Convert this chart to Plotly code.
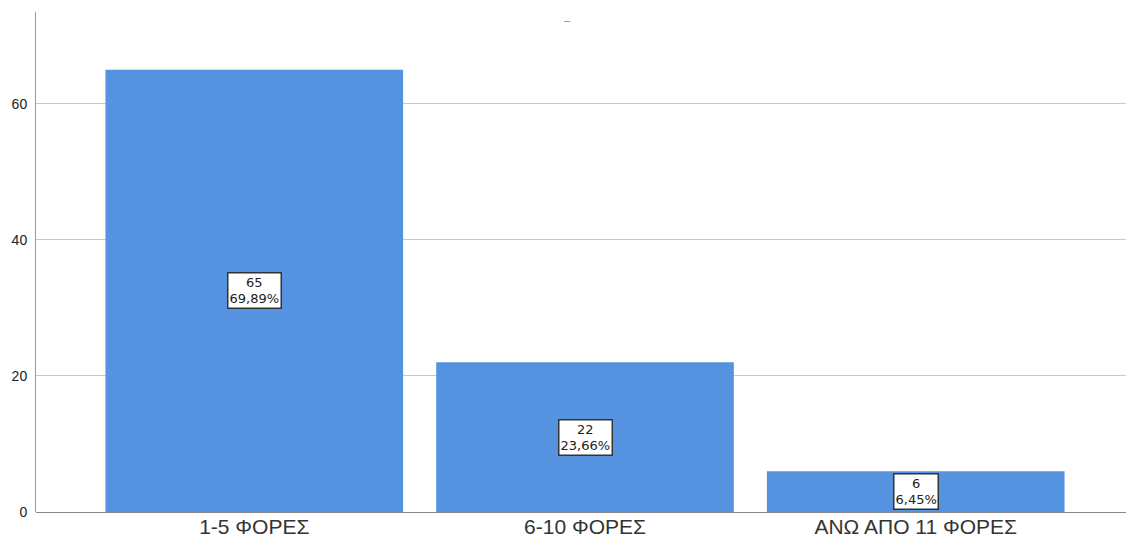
import plotly.graph_objects as go

categories = ["1-5 ΦΟΡΕΣ", "6-10 ΦΟΡΕΣ", "ΑΝΩ ΑΠΟ 11 ΦΟΡΕΣ"]
counts = [65, 22, 6]
percents = ["69,89%", "23,66%", "6,45%"]
y_ticks = [0, 20, 40, 60]

fig = go.Figure()
fig.add_trace(go.Bar(
    x=categories, y=counts,
    marker=dict(color="#5592E0", line=dict(width=0)),
    width=0.9, hoverinfo="skip",
))

for c, v, p in zip(categories, counts, percents):
    fig.add_annotation(
        x=c, y=v / 2, text=f"{v}<br>{p}", showarrow=False,
        font=dict(family="DejaVu Sans", size=13, color="#222"),
        bgcolor="white", bordercolor="#333", borderwidth=1.5, borderpad=1,
    )

fig.add_annotation(
    x=0.484, xref="paper", y=1.0, yref="paper", yanchor="top",
    text="<b>_</b>", showarrow=False,
    font=dict(family="Liberation Sans, Arial", size=11, color="#222"),
    yshift=4,
)

fig.update_layout(
    width=1134, height=544,
    margin=dict(l=28, r=8, t=4, b=40),
    paper_bgcolor="white", plot_bgcolor="white",
    showlegend=False,
    xaxis=dict(
        range=[-0.66, 2.66], showgrid=False,
        tickfont=dict(family="Liberation Sans, Arial", size=21, color="#333"),
        showline=False, ticks="",
    ),
    yaxis=dict(
        range=[0, 73.5], tickvals=y_ticks,
        showgrid=True, gridcolor="#C8C8C8", gridwidth=1,
        showline=True, linecolor="#999", linewidth=1,
        zeroline=True, zerolinecolor="#888", zerolinewidth=1,
        tickfont=dict(family="Liberation Sans, Arial", size=14, color="#222"),
        ticks="", ticklabelstandoff=5,
    ),
)

fig.write_html("out.html")
